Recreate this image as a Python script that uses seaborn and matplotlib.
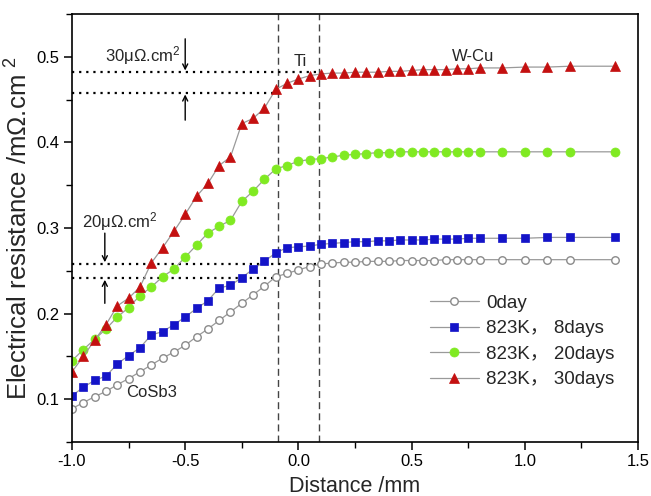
import matplotlib
matplotlib.use("Agg")
import matplotlib.pyplot as plt
import seaborn as sns
import pandas as pd
from matplotlib.ticker import MultipleLocator

# ---------------- data ----------------
distance = [-1.0, -0.95, -0.9, -0.85, -0.8, -0.75, -0.7, -0.65, -0.6, -0.55,
            -0.5, -0.45, -0.4, -0.35, -0.3, -0.25, -0.2, -0.15, -0.1, -0.05,
            0.0, 0.05, 0.1, 0.15, 0.2, 0.25, 0.3, 0.35, 0.4, 0.45,
            0.5, 0.55, 0.6, 0.65, 0.7, 0.75, 0.8, 0.9, 1.0, 1.1,
            1.2, 1.4]

r_0day = [0.089, 0.096, 0.103, 0.109, 0.117, 0.124, 0.132, 0.140, 0.148, 0.155,
          0.163, 0.173, 0.182, 0.192, 0.202, 0.212, 0.222, 0.232, 0.243, 0.247,
          0.251, 0.255, 0.258, 0.259, 0.260, 0.260, 0.261, 0.261, 0.261, 0.262,
          0.262, 0.262, 0.262, 0.263, 0.263, 0.263, 0.263, 0.263, 0.263, 0.263,
          0.263, 0.263]

r_8days = [0.104, 0.114, 0.122, 0.127, 0.141, 0.151, 0.160, 0.175, 0.179, 0.187,
           0.196, 0.206, 0.215, 0.230, 0.233, 0.242, 0.252, 0.261, 0.271, 0.277,
           0.278, 0.279, 0.281, 0.282, 0.283, 0.284, 0.284, 0.285, 0.285, 0.286,
           0.286, 0.286, 0.287, 0.287, 0.287, 0.288, 0.288, 0.288, 0.288, 0.289,
           0.289, 0.289]

r_20days = [0.145, 0.158, 0.170, 0.182, 0.196, 0.207, 0.221, 0.231, 0.243, 0.252,
            0.266, 0.280, 0.294, 0.302, 0.309, 0.331, 0.343, 0.357, 0.369, 0.373,
            0.378, 0.380, 0.381, 0.383, 0.385, 0.386, 0.387, 0.388, 0.388, 0.389,
            0.389, 0.389, 0.389, 0.389, 0.389, 0.389, 0.389, 0.389, 0.389, 0.389,
            0.389, 0.389]

r_30days = [0.132, 0.150, 0.169, 0.187, 0.209, 0.218, 0.231, 0.259, 0.277, 0.296,
            0.316, 0.337, 0.352, 0.373, 0.383, 0.422, 0.428, 0.440, 0.462, 0.469,
            0.474, 0.478, 0.480, 0.481, 0.481, 0.482, 0.482, 0.482, 0.483, 0.483,
            0.484, 0.485, 0.485, 0.485, 0.486, 0.486, 0.487, 0.487, 0.488, 0.488,
            0.489, 0.489]

labels = ["0day", "823K\uff0c 8days", "823K\uff0c 20days", "823K\uff0c 30days"]

interface_x = [-0.09, 0.09]
level_30 = [0.482, 0.458]
level_20 = [0.258, 0.2415]

# ---------------- style ----------------
sns.set_theme(style="ticks")
plt.rcParams["font.family"] = ["Liberation Sans", "Noto Sans CJK SC", "DejaVu Sans"]
plt.rcParams["mathtext.fontset"] = "custom"
plt.rcParams["mathtext.rm"] = "Liberation Sans"
plt.rcParams["mathtext.it"] = "Liberation Sans:italic"

fig = plt.figure(figsize=(6.51, 4.96), dpi=100)
ax = fig.add_axes([72 / 651, 1 - 442 / 496, 566 / 651, 428 / 496])

df = pd.DataFrame({"x": distance, "d0": r_0day, "d8": r_8days,
                   "d20": r_20days, "d30": r_30days})

line_col = "#9a9a9a"
series = [
    ("d0", labels[0], dict(marker="o", markersize=5.4, markerfacecolor="white",
                           markeredgecolor="#8a8a8a", markeredgewidth=1.0)),
    ("d8", labels[1], dict(marker="s", markersize=5.4, markerfacecolor="#1414c8",
                           markeredgecolor="#1414c8", markeredgewidth=0.5)),
    ("d20", labels[2], dict(marker="o", markersize=6.5, markerfacecolor="#80ea22",
                            markeredgecolor="#80ea22", markeredgewidth=0.5)),
    ("d30", labels[3], dict(marker="^", markersize=7.2, markerfacecolor="#c41010",
                            markeredgecolor="#c41010", markeredgewidth=0.5)),
]
handles = []
for col, lab, kw in series:
    sns.lineplot(data=df, x="x", y=col, ax=ax, color=line_col, linewidth=0.9,
                 label=lab, legend=False, **kw)
    handles.append(ax.get_lines()[-1])

# interface lines
for xv in interface_x:
    ax.axvline(xv, color="#444444", lw=1.0, ls=(0, (5, 3)), zorder=1)

# dotted level lines
dot = dict(color="black", lw=1.6, ls=(0, (1, 2.2)), zorder=1)
ax.plot([-1.0, interface_x[1]], [level_30[0]] * 2, **dot)
ax.plot([-1.0, interface_x[0]], [level_30[1]] * 2, **dot)
ax.plot([-1.0, interface_x[1]], [level_20[0]] * 2, **dot)
ax.plot([-1.0, interface_x[0]], [level_20[1]] * 2, **dot)

arrow_kw = dict(arrowstyle="->", color="black", lw=1.0, mutation_scale=9,
                shrinkA=0, shrinkB=0)
ax.annotate("", xy=(-0.5, level_30[0] + 0.002), xytext=(-0.5, 0.521), arrowprops=arrow_kw)
ax.annotate("", xy=(-0.5, level_30[1] - 0.002), xytext=(-0.5, 0.426), arrowprops=arrow_kw)
ax.annotate("", xy=(-0.855, level_20[0] + 0.002), xytext=(-0.855, 0.294), arrowprops=arrow_kw)
ax.annotate("", xy=(-0.855, level_20[1] - 0.002), xytext=(-0.855, 0.212), arrowprops=arrow_kw)

ax.text(-0.52, 0.501, "30\u03bc\u03a9.cm$^{2}$", ha="right", va="center", fontsize=12)
ax.text(-0.79, 0.307, "20\u03bc\u03a9.cm$^{2}$", ha="center", va="center", fontsize=12)
ax.text(0.007, 0.494, "Ti", ha="center", va="center", fontsize=12)
ax.text(0.773, 0.500, "W-Cu", ha="center", va="center", fontsize=12)
ax.text(-0.648, 0.1075, "CoSb3", ha="center", va="center", fontsize=12)

# axes
ax.set_xlim(-1.0, 1.5)
ax.set_ylim(0.05, 0.55)
ax.xaxis.set_minor_locator(MultipleLocator(0.25))
ax.yaxis.set_minor_locator(MultipleLocator(0.05))
ax.set_xticks([-1.0, -0.5, 0.0, 0.5, 1.0, 1.5])
ax.set_xticklabels(["-1.0", "-0.5", "0.0", "0.5", "1.0", "1.5"])
ax.set_yticks([0.1, 0.2, 0.3, 0.4, 0.5])
ax.set_yticklabels(["0.1", "0.2", "0.3", "0.4", "0.5"])
ax.tick_params(which="major", direction="out", length=6, width=1.1, labelsize=12,
               pad=3, color="black", labelcolor="black")
ax.tick_params(which="minor", direction="out", length=4, width=1.0, color="black")
for s in ax.spines.values():
    s.set_visible(True)
    s.set_color("black")
    s.set_linewidth(1.2)

ax.set_xlabel("Distance /mm", fontsize=15.5, labelpad=5)
ax.set_ylabel("Electrical resistance /m\u03a9.cm $^{2}$", fontsize=18.5)
ax.yaxis.set_label_coords(-0.07, 0.5)

ax.legend(handles, labels, loc="center left", bbox_to_anchor=(0.6325, 0.235),
          frameon=False, fontsize=13.5, handlelength=2.6, handletextpad=0.4,
          labelspacing=0.45, borderpad=0, borderaxespad=0)

fig.savefig("out.png", dpi=100)
